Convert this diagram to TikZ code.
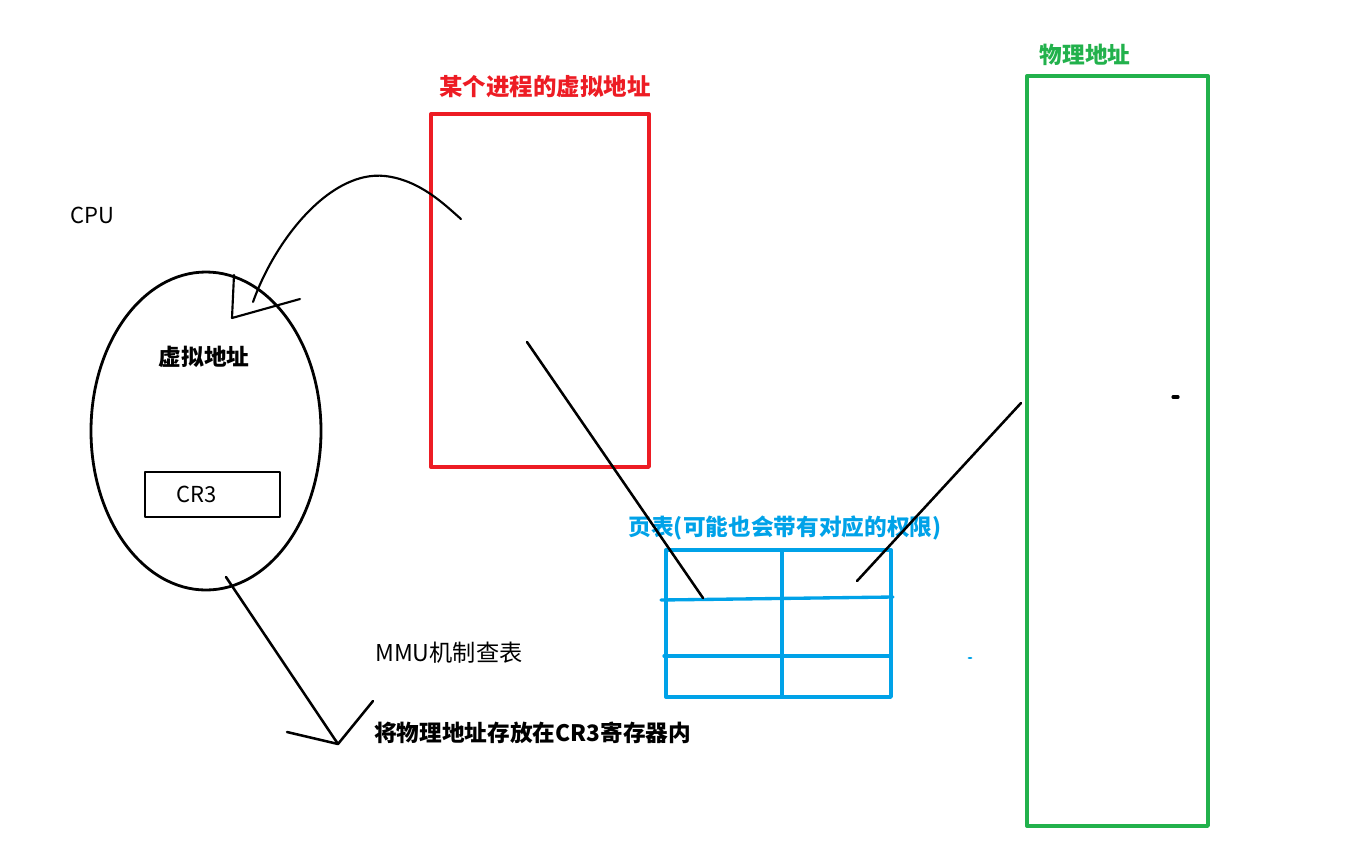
\documentclass[tikz,border=0pt]{standalone}
\usepackage{fontspec}
\setmainfont{Noto Sans CJK SC}
\usetikzlibrary{shapes.geometric}
\usepackage{xcolor}
\definecolor{paintred}{RGB}{237,28,36}
\definecolor{paintgreen}{RGB}{34,177,76}
\definecolor{paintblue}{RGB}{0,162,232}

\begin{document}
\begin{tikzpicture}[x=0.75pt,y=-0.75pt,line cap=round,line join=round]
  \tikzstyle{every node}=[font=\fontsize{16.5}{20}\selectfont,inner sep=0pt]
  \tikzstyle{stroke}=[draw=black,line width=1.9pt]
  \tikzstyle{heading}=[font=\fontsize{17}{20}\selectfont\bfseries]
  \tikzstyle{frame}=[draw,line width=2.5pt,minimum width=0pt,minimum height=0pt]
  \useasboundingbox (0,0) rectangle (1356,840);

  % CPU
  \node                 (cpulabel) at (92,215)  {CPU};
  \node[ellipse,draw,line width=2.1pt,minimum width=172.5pt,minimum height=238.5pt] (cpu) at (206,431) {};
  \node[heading]        (vaddr)    at (204,357) {虚拟地址};
  \node[draw,line width=1.9pt,minimum width=101pt,minimum height=33.75pt] (cr3) at (212.5,494.5) {};
  \node                 (cr3text)  at (197,494) {CR3};

  % virtual address space
  \node[frame,draw=paintred,minimum width=163.5pt,minimum height=264.75pt] (vbox) at (540,290.5) {};
  \node[heading,text=paintred,font=\fontsize{17.6}{22}\selectfont\bfseries] (vlabel) at (545,87) {某个进程的虚拟地址};

  % physical memory
  \node[frame,draw=paintgreen,minimum width=135.75pt,minimum height=562.5pt] (pbox) at (1117.5,451) {};
  \node[heading,text=paintgreen] (plabel) at (1085,55) {物理地址};

  % page table
  \node[frame,draw=paintblue,minimum width=168.75pt,minimum height=110.25pt] (table) at (778.5,623.5) {};
  \node[heading,text=paintblue] (tlabel) at (785,528) {页表(可能也会带有对应的权限)};
  \coordinate (colT)  at (782,550);
  \coordinate (colB)  at (782,697);
  \coordinate (rowAl) at (661,600);
  \coordinate (rowAr) at (893,597);
  \coordinate (rowBl) at (664,656);
  \coordinate (rowBr) at (891,656);
  \draw[paintblue,line width=2.5pt] (colT) -- (colB);
  \draw[paintblue,line width=2.5pt] (rowAl) -- (rowAr);
  \draw[paintblue,line width=2.5pt] (rowBl) -- (rowBr);

  % notes
  \node[anchor=west,font=\fontsize{17.4}{20}\selectfont] (mmu) at (375,653) {MMU机制查表};
  \node[anchor=west,font=\fontsize{17}{20}\selectfont\bfseries] (store) at (374,733) {将物理地址存放在CR3寄存器内};

  % connectors
  \coordinate (curvestart) at (253,302);
  \coordinate (curvetop)   at (385,176);
  \coordinate (curveend)   at (461,219);
  \draw[stroke,line width=1.6pt] (curvestart) .. controls (275,240) and (330,170) .. (curvetop)
                .. controls (420,180) and (445,205) .. (curveend);
  \coordinate (headA) at (234,275);
  \coordinate (headtip) at (232,318);
  \coordinate (headB) at (300,299);
  \draw[stroke,line width=1.6pt] (headA) -- (headtip) -- (headB);

  \coordinate (vfrom) at (527,342);
  \coordinate (vto)   at (703,598);
  \draw[stroke] (vfrom) -- (vto);
  \coordinate (pfrom) at (1021,403);
  \coordinate (pto)   at (857,581);
  \draw[stroke] (pfrom) -- (pto);

  \coordinate (downfrom) at (226,577);
  \coordinate (downtip)  at (338,744);
  \draw[stroke] (downfrom) -- (downtip);
  \draw[stroke] (287,732) -- (downtip) -- (373,701);

  % stray marks
  \draw[black,line width=2.4pt] (1173,397) -- (1178,397);
  \draw[paintblue,line width=2.2pt] (969,658) -- (971,658);
\end{tikzpicture}
\end{document}
